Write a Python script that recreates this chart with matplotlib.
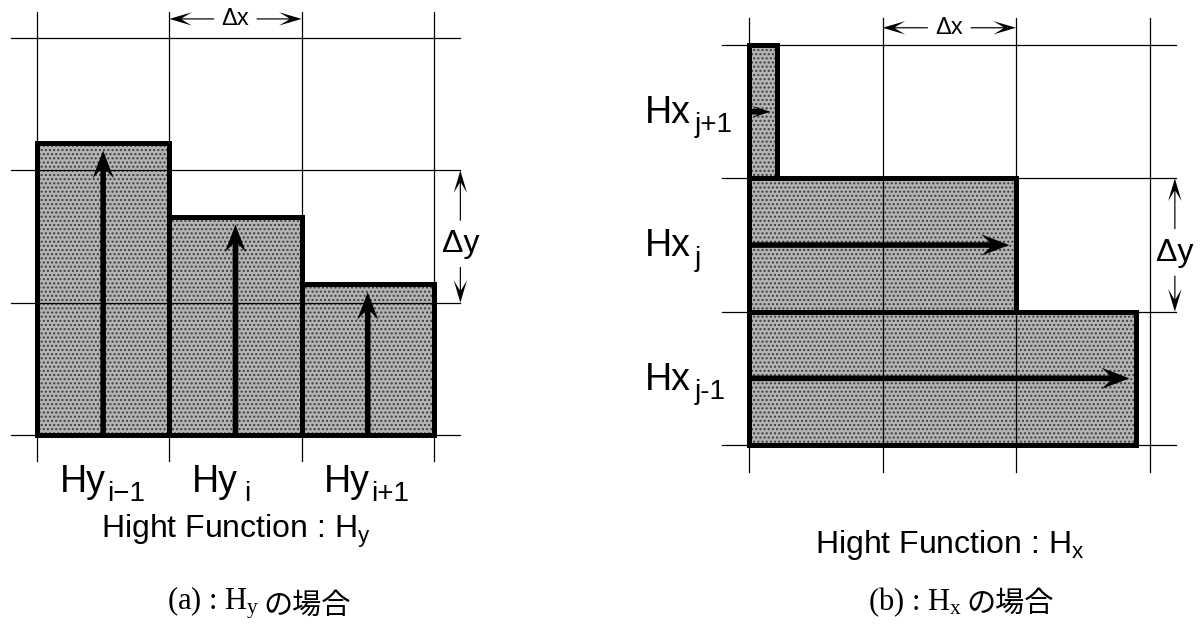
import matplotlib
matplotlib.use("Agg")
import matplotlib.pyplot as plt
from matplotlib.patches import Rectangle

plt.rcParams['font.family'] = ['Liberation Sans', 'DejaVu Sans']
plt.rcParams['mathtext.fontset'] = 'custom'
plt.rcParams['mathtext.sf'] = 'Liberation Sans'
plt.rcParams['mathtext.rm'] = 'Liberation Serif'
plt.rcParams['mathtext.it'] = 'Liberation Serif:italic'
plt.rcParams['hatch.linewidth'] = 1.0

# (a) height function H_y : one column per cell, values in cell heights
hy_index = ['i\u22121', 'i', 'i+1']
hy_height = [2.21, 1.65, 1.14]

# (b) height function H_x : one row per cell (bottom to top), values in cell widths
hx_index = ['j-1', 'j', 'j+1']
hx_length = [2.90, 2.00, 0.21]

W, H = 1204, 634
FILL = '#b4b4b4'
DOTS = '#3c3c3c'
JP = ['Noto Sans CJK JP', 'DejaVu Sans']

fig = plt.figure(figsize=(W / 100, H / 100), dpi=100)


def make_panel(left_px, width_px, x0_px, y0_px, cell_w, cell_h):
    """axes whose data unit is one grid cell, origin at the lower left grid corner"""
    ax = fig.add_axes([left_px / W, 0, width_px / W, 1])
    ax.set_xlim((left_px - x0_px) / cell_w, (left_px + width_px - x0_px) / cell_w)
    ax.set_ylim((y0_px - H) / cell_h, y0_px / cell_h)
    ax.axis('off')
    return ax


def draw_grid(ax, n=3, ext=0.2):
    for k in range(n + 1):
        ax.plot([k, k], [-ext, n + ext], color='k', lw=0.9, zorder=2)
        ax.plot([-ext, n + ext], [k, k], color='k', lw=0.9, zorder=2)


def draw_cell(ax, x, y, w, h):
    # dotted fill first, thick outline on top of the grid lines
    ax.add_patch(Rectangle((x, y), w, h, facecolor=FILL, edgecolor=DOTS,
                           hatch='....', lw=0, zorder=1))
    ax.add_patch(Rectangle((x, y), w, h, fill=False, edgecolor='k',
                           lw=3.6, joinstyle='miter', zorder=3))


def thick_arrow(ax, x, y, dx, dy, small=False):
    hw, hl = (0.09, 0.14) if small else (0.16, 0.21)
    ax.arrow(x, y, dx, dy, width=0.042, head_width=hw, head_length=hl,
             overhang=0.3, length_includes_head=True, color='k', lw=0, zorder=4)


def dim_arrow(ax, x0, y0, x1, y1):
    ax.arrow(x0, y0, x1 - x0, y1 - y0, width=0.009, head_width=0.1,
             head_length=0.17, overhang=0.45, length_includes_head=True,
             color='k', lw=0, zorder=4)


def dimensions(ax, ytop, xdy):
    # dx between the 2nd and 3rd grid lines, dy on the right side
    ax.text(1.5, ytop, '\u0394x', ha='center', va='center', fontsize=17)
    dim_arrow(ax, 1.34, ytop, 1.0, ytop)
    dim_arrow(ax, 1.66, ytop, 2.0, ytop)
    ax.text(xdy, 1.44, '\u0394y', ha='center', va='center', fontsize=23)
    dim_arrow(ax, xdy, 1.62, xdy, 2.0)
    dim_arrow(ax, xdy, 1.27, xdy, 1.0)


def cell_label(ax, x, y, name, idx, gap):
    # big "Hy"/"Hx" with the cell index as a subscript behind it
    t = ax.text(x, y, name, ha='left', va='baseline', fontsize=27)
    ax.annotate(idx, xy=(1, 0), xycoords=t, xytext=(gap, -1.0),
                textcoords='offset points', ha='left', va='baseline',
                fontsize=20)


def caption(ax, x, y, tag, sub):
    # "(a) : H_y" in serif, the Japanese part placed right after it
    t = ax.text(x, y, r'%s : $\mathrm{H_%s}$' % (tag, sub), ha='left',
                va='baseline', fontsize=22, family='Liberation Serif')
    ax.annotate('の場合', xy=(1, 0), xycoords=t, xytext=(3, 0),
                textcoords='offset points', ha='left', va='bottom',
                fontsize=21, family=JP)


# ---- (a) H_y ----
ax1 = make_panel(0, 600, 37, 435, 132.3, 132.3)
draw_grid(ax1)
for k, h in enumerate(hy_height):
    draw_cell(ax1, k, 0, 1, h)
    thick_arrow(ax1, k + 0.5, 0, 0, h - 0.06)
    cell_label(ax1, k + 0.17, -0.43, 'Hy', hy_index[k],
               5 if hy_index[k] == 'i' else 1)
dimensions(ax1, 3.145, 3.2)
ax1.text(1.5, -0.78, r'Hight Function : $\mathsf{H_y}$', ha='center',
         va='baseline', fontsize=23)
caption(ax1, 0.98, -1.32, '(a)', 'y')

# ---- (b) H_x ----
ax2 = make_panel(600, 604, 749, 445, 133.5, 133.3)
draw_grid(ax2)
for k, w in enumerate(hx_length):
    draw_cell(ax2, 0, k, w, 1)
    thick_arrow(ax2, 0, k + 0.5, w - 0.05, 0, small=w < 0.5)
    cell_label(ax2, -0.78, k + 0.5 - 0.085, 'Hx', hx_index[k], 3)
dimensions(ax2, 3.13, 3.19)
ax2.text(1.5, -0.81, r'Hight Function : $\mathsf{H_x}$', ha='center',
         va='baseline', fontsize=23)
caption(ax2, 0.89, -1.24, '(b)', 'x')

fig.savefig('out.png', dpi=100)
